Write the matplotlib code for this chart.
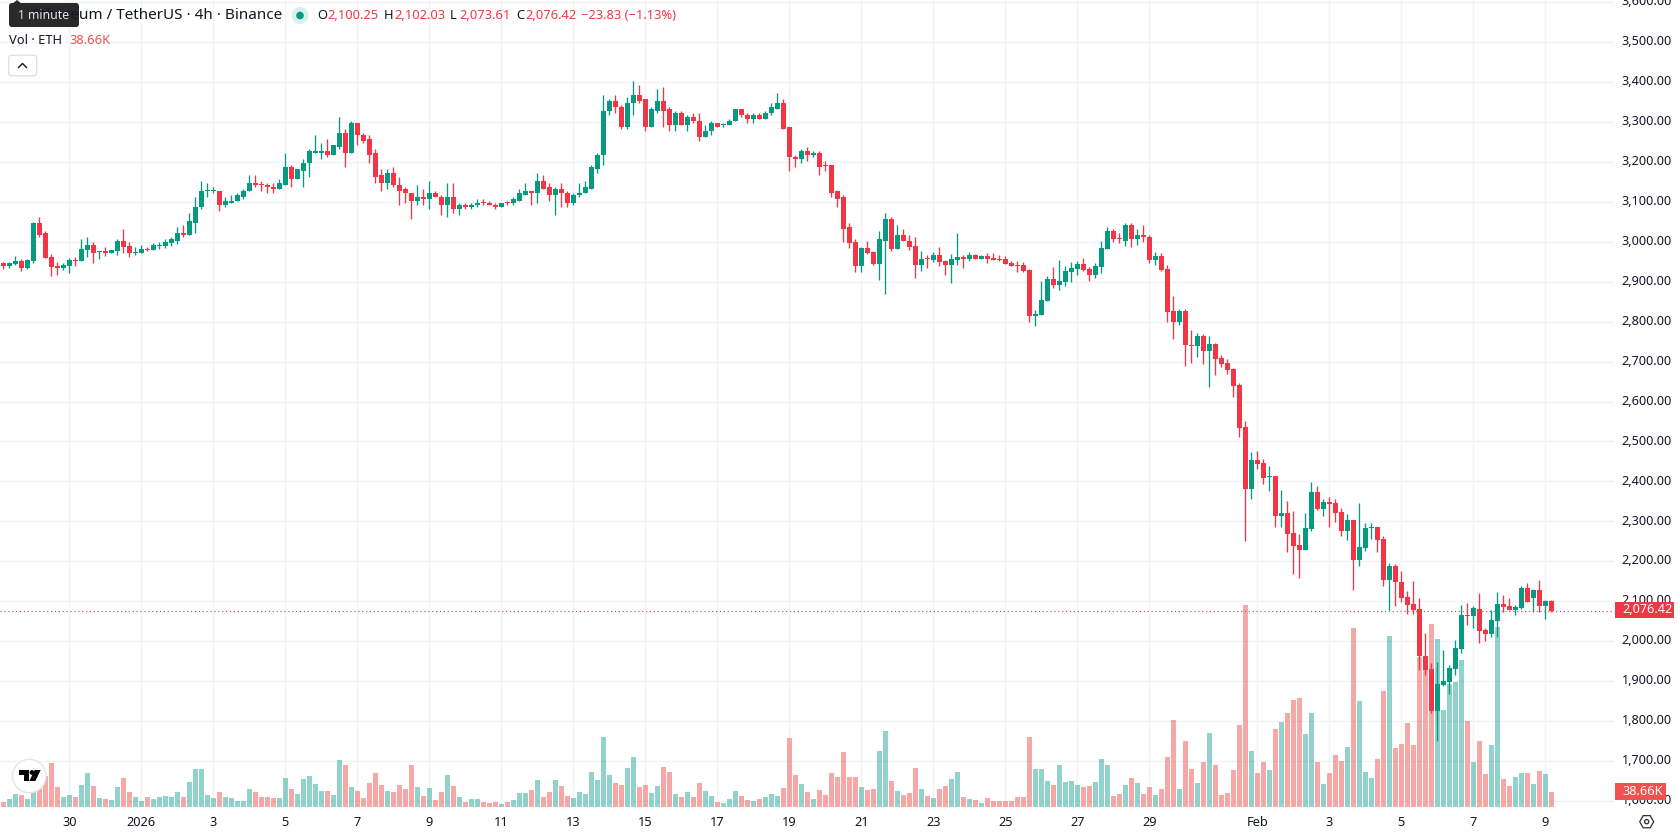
import numpy as np
import matplotlib
matplotlib.use('Agg')
import matplotlib.pyplot as plt
from matplotlib.patches import Rectangle, FancyBboxPatch, Circle, Polygon, RegularPolygon
from matplotlib.transforms import ScaledTranslation

# 4h candles, oldest first
opens = [2946,2938,2943,2951,2933,2951,3046,3021,2961,2938,
         2933,2938,2953,2951,2978,2991,2973,2976,2971,2976,
         3003,2988,2971,2971,2982,2978,2989,2988,2996,3003,
         3023,3018,3048,3086,3126,3126,3128,3091,3098,3101,
         3113,3126,3148,3143,3141,3138,3131,3143,3188,3156,
         3178,3196,3223,3223,3226,3218,3238,3273,3223,3298,
         3268,3256,3221,3166,3146,3171,3143,3131,3123,3103,
         3113,3106,3121,3113,3091,3113,3081,3092,3086,3091,
         3098,3098,3093,3086,3098,3096,3103,3118,3126,3123,
         3153,3136,3116,3131,3123,3096,3116,3121,3133,3183,
         3216,3326,3353,3338,3286,3346,3368,3356,3286,3328,
         3351,3331,3293,3321,3293,3311,3303,3263,3276,3298,
         3291,3291,3301,3331,3318,3308,3318,3306,3321,3333,
         3348,3286,3213,3206,3226,3216,3221,3192,3191,3126,
         3111,3036,2998,2938,2983,2973,2943,3003,3058,2981,
         3016,3003,2988,2941,2958,2953,2966,2951,2941,2953,
         2961,2956,2966,2956,2963,2958,2956,2956,2946,2941,
         2941,2928,2813,2816,2851,2906,2891,2898,2923,2931,
         2943,2931,2916,2936,2981,3028,3008,3003,3041,3008,
         3018,3013,2953,2963,2931,2826,2798,2826,2741,2739,
         2763,2726,2743,2708,2696,2681,2641,2536,2381,2453,
         2446,2411,2413,2313,2321,2271,2241,2228,2281,2373,
         2331,2348,2346,2323,2276,2303,2203,2233,2283,2286,
         2256,2152,2188,2148,2111,2093,2081,1963,1931,1826,
         1891,1898,1931,1981,2066,2063,2081,2028,2018,2051,
         2093,2088,2078,2083,2133,2108,2128,2088,2100.25]
closes = [2938,2946,2951,2933,2953,3046,3018,2958,2936,2933,
          2941,2953,2951,2981,2991,2971,2976,2971,2978,3003,
          2986,2971,2973,2981,2978,2991,2991,2998,3006,3023,
          3018,3051,3088,3126,3128,3128,3091,3101,3103,3116,
          3128,3148,3141,3141,3136,3131,3146,3188,3156,3181,
          3198,3226,3226,3226,3218,3241,3273,3223,3298,3266,
          3253,3218,3163,3146,3171,3141,3128,3121,3103,3113,
          3106,3121,3111,3091,3113,3081,3091,3088,3093,3098,
          3096,3091,3086,3098,3096,3106,3121,3126,3123,3153,
          3133,3116,3131,3121,3096,3118,3123,3136,3186,3218,
          3328,3353,3336,3286,3348,3368,3353,3286,3331,3351,
          3328,3293,3321,3293,3311,3301,3263,3278,3298,3288,
          3293,3303,3331,3316,3308,3318,3306,3323,3336,3348,
          3283,3211,3206,3226,3216,3221,3188,3189,3123,3108,
          3033,2996,2938,2983,2971,2943,3006,3058,2981,3016,
          3001,2986,2941,2956,2956,2966,2948,2941,2956,2961,
          2956,2966,2956,2963,2956,2953,2953,2943,2938,2938,
          2926,2813,2818,2853,2906,2891,2901,2926,2933,2943,
          2928,2916,2938,2983,3028,3006,3006,3041,3008,3018,
          3011,2953,2963,2928,2823,2798,2826,2741,2739,2763,
          2726,2743,2706,2693,2678,2638,2533,2381,2453,2443,
          2408,2413,2313,2321,2268,2238,2228,2283,2373,2331,
          2348,2343,2321,2276,2303,2203,2236,2283,2286,2253,
          2152,2188,2147,2108,2091,2078,1962,1928,1826,1893,
          1901,1933,1983,2066,2063,2083,2026,2018,2053,2093,
          2086,2078,2086,2133,2098,2128,2088,2100,2076.42]
highs = [2948,2948,2963,2956,2956,3050,3061,3027,2968,2948,
         2946,2958,2961,3006,3011,2998,2977,2986,2980,3006,
         3031,2998,2986,2991,2986,2996,2998,3008,3011,3036,
         3041,3071,3111,3151,3148,3138,3128,3113,3116,3121,
         3133,3168,3166,3151,3148,3146,3158,3223,3191,3183,
         3206,3231,3268,3248,3256,3243,3311,3281,3303,3298,
         3273,3266,3231,3181,3183,3186,3163,3138,3123,3141,
         3133,3151,3128,3118,3146,3148,3096,3096,3096,3106,
         3106,3101,3096,3098,3103,3111,3133,3148,3128,3173,
         3168,3148,3136,3148,3128,3121,3148,3151,3191,3221,
         3368,3358,3366,3343,3363,3403,3393,3358,3336,3381,
         3386,3338,3326,3328,3318,3321,3321,3291,3301,3298,
         3296,3306,3331,3331,3321,3321,3321,3328,3348,3371,
         3358,3286,3218,3233,3238,3228,3226,3203,3191,3126,
         3116,3046,3008,2986,3003,2976,3028,3071,3061,3041,
         3031,3018,3013,2976,2966,2973,2986,2953,2968,3021,
         2966,2973,2968,2966,2971,2971,2966,2963,2951,2951,
         2948,2931,2828,2901,2913,2936,2953,2938,2948,2951,
         2958,2936,2946,3001,3036,3033,3021,3048,3048,3033,
         3041,3016,2973,2971,2941,2863,2831,2831,2778,2771,
         2768,2764,2746,2716,2706,2683,2646,2551,2473,2476,
         2456,2438,2413,2378,2351,2326,2268,2321,2398,2388,
         2356,2361,2356,2333,2318,2303,2346,2296,2296,2286,
         2263,2196,2193,2176,2126,2151,2108,2021,1946,1948,
         1978,1941,2003,2091,2096,2088,2121,2033,2078,2123,
         2116,2108,2091,2138,2146,2131,2153,2103,2102.03]
lows = [2931,2933,2941,2927,2931,2946,3013,2958,2914,2917,
        2928,2921,2938,2951,2961,2946,2956,2964,2971,2966,
        2971,2961,2966,2971,2976,2978,2981,2983,2988,2993,
        3011,3018,3023,3081,3113,3121,3078,3086,3096,3101,
        3108,3126,3136,3128,3121,3121,3131,3143,3136,3156,
        3136,3161,3221,3206,3213,3216,3231,3186,3223,3241,
        3248,3198,3146,3128,3131,3136,3091,3098,3056,3091,
        3091,3083,3111,3068,3061,3071,3068,3081,3081,3088,
        3091,3091,3081,3086,3091,3093,3103,3118,3093,3098,
        3133,3103,3068,3086,3086,3093,3113,3121,3131,3173,
        3193,3316,3323,3283,3281,3316,3348,3278,3286,3321,
        3288,3276,3278,3293,3278,3296,3253,3261,3266,3286,
        3288,3291,3301,3313,3298,3298,3306,3306,3316,3331,
        3281,3178,3188,3198,3203,3211,3166,3178,3111,3086,
        2998,2983,2923,2923,2968,2941,2903,2868,2976,2981,
        3001,2978,2908,2926,2933,2948,2938,2916,2896,2941,
        2933,2951,2956,2956,2946,2953,2951,2943,2938,2923,
        2923,2798,2788,2816,2851,2883,2878,2888,2898,2916,
        2926,2901,2908,2921,2981,2998,2996,2988,2986,2991,
        2998,2946,2941,2926,2798,2756,2791,2688,2696,2711,
        2693,2636,2666,2686,2668,2611,2511,2251,2356,2431,
        2393,2376,2286,2286,2223,2168,2158,2228,2276,2328,
        2313,2286,2298,2263,2253,2128,2188,2226,2256,2223,
        2138,2078,2088,2098,2068,2068,1928,1916,1821,1751,
        1888,1868,1916,1971,2041,2033,1996,2001,2011,2011,
        2073,2078,2066,2081,2098,2073,2073,2056,2073.61]
# volume in thousands of ETH
volumes = [13.2,21.1,34.3,31.6,21.1,42.2,49.2,81.7,116,52.7,
           26.4,31.6,26.4,58,89.6,55.4,23.7,21.1,18.5,52.7,
           76.4,39.5,26.4,15.8,26.4,21.1,26.4,29,26.4,39.5,
           26.4,65.9,100.2,100.2,31.6,23.7,39.5,26.4,23.7,15.8,
           15.8,47.4,39.5,26.4,26.4,23.7,23.7,76.4,47.4,34.3,
           73.8,81.7,60.6,42.2,42.2,31.6,123.9,110.7,52.7,42.2,
           23.7,63.3,89.6,58,42.2,39.5,58,47.4,110.7,52.7,
           29,50.1,18.5,39.5,84.3,55.4,26.4,13.2,21.1,21.1,
           13.2,10.5,13.2,7.9,13.2,18.5,36.9,36.9,44.8,71.2,
           26.4,39.5,71.2,55.4,29,23.7,39.5,34.3,92.3,71.2,
           184.5,84.3,63.3,58,102.8,131.8,52.7,58,36.9,55.4,
           105.4,92.3,34.3,26.4,39.5,26.4,63.3,42.2,29,13.2,
           10.5,21.1,42.2,29,18.5,15.8,21.1,26.4,34.3,29,
           50.1,181.9,84.3,60.6,39.5,21.1,44.8,31.6,89.6,79.1,
           145,79.1,79.1,52.7,44.8,47.4,147.6,200.3,68.5,42.2,
           31.6,36.9,102.8,47.4,29,23.7,47.4,55.4,73.8,92.3,
           26.4,21.1,18.5,10.5,23.7,15.8,15.8,15.8,15.8,26.4,
           26.4,184.5,100.2,100.2,68.5,58,110.7,65.9,68.5,58,
           52.7,55.4,65.9,126.5,110.7,29,34.3,58,76.4,63.3,
           34.3,52.7,31.6,47.4,131.8,229.3,47.4,174,100.2,63.3,
           118.6,195,110.7,31.6,36.9,97.5,216.1,532.4,147.6,89.6,
           118.6,97.5,205.6,224,247.8,282,287.3,192.4,247.8,118.6,
           60.6,89.6,137.1,121.2,158.1,471.8,279.4,92.3,76.4,126.5,
           305.8,450.7,155.5,166.1,221.4,163.4,395.4,369,481.5,441.9,
           254.8,325.1,328.6,386.6,225.8,117.7,173.1,86.1,162.5,473.6,
           72.9,54.5,78.2,88.7,88.7,59.7,94,86.1,38.66]

price_ticks = list(range(1600, 3700, 100))
date_ticks = [11, 23, 35, 47, 59, 71, 83, 95, 107, 119, 131, 143, 155, 167, 179, 191, 209, 221, 233, 245, 257]
date_labels = ['30', '2026', '3', '5', '7', '9', '11', '13', '15', '17', '19', '21', '23', '25', '27', '29',
               'Feb', '3', '5', '7', '9']

symbol_text = 'Ethereum / TetherUS · 4h · Binance'
ohlc_names = ['O', 'H', 'L', 'C']
ohlc_values = ['2,100.25', '2,102.03', '2,073.61', '2,076.42']
change_text = '−23.83 (−1.13%)'
vol_name = 'Vol · ETH'
vol_text = '38.66K'

GREEN = '#089981'
RED = '#F23645'
VOL_GREEN = '#26A69A'
VOL_RED = '#EF5350'
INK = '#131722'

plt.rcParams['font.family'] = ['Noto Sans', 'DejaVu Sans']

W, H = 1678, 835
fig = plt.figure(figsize=(W / 100, H / 100), dpi=100, facecolor='white')
rect = [0, 1 - 807 / H, 1614 / W, 807 / H]

# three layers sharing a position: grid, volume, candles
ax_bg = fig.add_axes(rect, zorder=1)
ax_vol = fig.add_axes(rect, zorder=2, facecolor='none')
ax = fig.add_axes(rect, zorder=3, facecolor='none')

xlim = (-0.55, 268.45)
ylim = (1585, 3605)
for a in (ax_bg, ax_vol, ax):
    a.set_xlim(xlim)
    for s in a.spines.values():
        s.set_visible(False)
ax_bg.set_ylim(ylim)
ax.set_ylim(ylim)
ax_vol.set_ylim(0, 2127)

ax_bg.set_xticks(date_ticks)
ax_bg.set_yticks(price_ticks)
ax_bg.grid(True, color='#F1F2F5', lw=1.0)
ax_bg.set_axisbelow(True)
ax_bg.tick_params(length=0, labelbottom=False, labelleft=False)
ax_vol.set_xticks([])
ax_vol.set_yticks([])

idx = np.arange(len(closes))
o = np.array(opens)
c = np.array(closes)
up = c >= o

ax_vol.bar(idx[up], np.array(volumes)[up], width=0.85, color=VOL_GREEN, alpha=0.5, lw=0)
ax_vol.bar(idx[~up], np.array(volumes)[~up], width=0.85, color=VOL_RED, alpha=0.5, lw=0)

colors = np.where(up, GREEN, RED)
ax.vlines(idx, lows, highs, colors=colors, lw=0.95)
body_bottom = np.minimum(o, c)
body_height = np.maximum(np.abs(c - o), 2.5)
ax.bar(idx, body_height, bottom=body_bottom, width=0.88, color=colors, lw=0)

ax.axhline(closes[-1], color=RED, lw=0.8, ls=(0, (1, 2.5)))

ax.yaxis.tick_right()
ax.set_yticks(price_ticks)
ax.set_yticklabels([f'{p:,.2f}' for p in price_ticks], fontsize=9.1, color=INK)
ax.set_xticks(date_ticks)
ax.set_xticklabels(date_labels, fontsize=9.2, color=INK)
ax.get_xticklabels()[1].set_fontweight('bold')
ax.tick_params(axis='y', length=0, pad=5.5)
ax.tick_params(axis='x', length=0, pad=6.8)
ax.set_ylim(ylim)
ax.set_xlim(xlim)

# price labels sit a little above their grid lines
lift = ScaledTranslation(0, 1.3 / 72, fig.dpi_scale_trans)
for lab in ax.get_yticklabels():
    lab.set_transform(lab.get_transform() + lift)

# overlay in screen pixels for the legend and scale tags
ov = fig.add_axes([0, 0, 1, 1], zorder=10, facecolor='none')
ov.set_xlim(0, W)
ov.set_ylim(H, 0)
ov.axis('off')


def scale_tag(src, value, text, x1, color):
    y = H - src.transData.transform((0, value))[1] - 0.7
    ov.add_patch(Rectangle((1615, y - 8.4), x1 - 1615, 16.8, color=color, lw=0))
    ov.text(1622, y, text, color='white', fontsize=9.1, va='center', ha='left')


scale_tag(ax, closes[-1], f'{closes[-1]:,.2f}', 1674, RED)
scale_tag(ax_vol, volumes[-1], '38.66K', 1666, VOL_RED)

# legend rows
ov.text(282.5, 15.5, symbol_text, fontsize=11.0, color=INK, ha='right', va='center')
ov.add_patch(Circle((300, 15.5), 8.5, color='#D9F0EC', lw=0))
ov.add_patch(Circle((300, 15.5), 3.8, color=GREEN, lw=0))

name_x = [317, 384, 450, 516]
value_x = [327.5, 394, 459, 525]
for nx, vx, name, val in zip(name_x, value_x, ohlc_names, ohlc_values):
    ov.text(nx, 15.5, name, fontsize=9.3, color=INK, va='center')
    ov.text(vx, 15.5, val, fontsize=9.3, color=RED, va='center')
ov.text(581, 15.5, change_text, fontsize=9.3, color=RED, va='center')

ov.text(9, 40.5, vol_name, fontsize=9.3, color=INK, va='center')
ov.text(69.5, 40.5, vol_text, fontsize=9.3, color=VOL_RED, va='center')

# tooltip over the symbol name
ov.add_patch(FancyBboxPatch((11, 5), 66, 20, boxstyle='round,pad=2,rounding_size=3', fc='#2A2A2A', ec='none'))
ov.add_patch(Polygon([(12, 4), (17, 0), (22, 4)], fc='#2A2A2A', ec='none'))
ov.text(43.5, 15.5, '1 minute', fontsize=8.8, color='#E6E6E6', ha='center', va='center')

# collapse button
ov.add_patch(FancyBboxPatch((10.7, 57.3), 24, 16.5, boxstyle='round,pad=2,rounding_size=3', fc='white', ec='#DCDFE6', lw=0.9))
ov.plot([18.5, 22.5, 26.5], [67.5, 63.5, 67.5], color=INK, lw=1.0)

# logo badge
ov.add_patch(Circle((29.3, 776), 16.7, fc='white', ec='#E6E6E6', lw=1.0))
ov.add_patch(Polygon([(19, 770), (29.3, 770), (29.3, 781), (24, 781), (24, 775), (19, 775)], fc='black', ec='none'))
ov.add_patch(Circle((32, 772.5), 2.4, fc='black', ec='none'))
ov.add_patch(Polygon([(34.7, 770), (40.7, 770), (35.3, 781), (29.3, 781)], fc='black', ec='none'))

# settings icon under the price scale
ov.add_patch(RegularPolygon((1646.7, 821.7), 6, radius=7, orientation=np.pi / 2, fc='white', ec='#2A2E39', lw=0.9))
ov.add_patch(Circle((1646.7, 821.7), 2.1, fc='white', ec='#2A2E39', lw=0.9))

fig.savefig('out.png', dpi=100)
